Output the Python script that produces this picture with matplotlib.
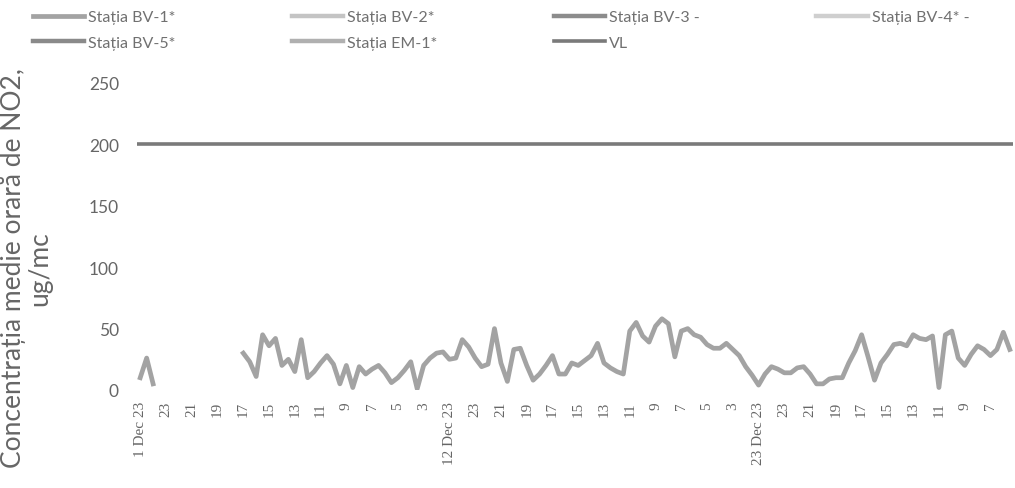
# NO2 hourly mean concentration, December 2023
import matplotlib.pyplot as plt
import numpy as np

tick_labels = ['1 Dec 23', '23', '21', '19', '17', '15', '13', '11', '9', '7', '5', '3',
               '12 Dec 23', '23', '21', '19', '17', '15', '13', '11', '9', '7', '5', '3',
               '23 Dec 23', '23', '21', '19', '17', '15', '13', '11', '9', '7']

# measured values (None = missing)
bv1 = [10, 26, 5, None, None, None, None, None, None, None, None, None, None, None, None, None,
       30, 23, 11, 45, 36, 42, 20, 25, 15, 41, 10, 15, 22, 28, 21, 5,
       20, 2, 19, 13, 17, 20, 14, 6, 10, 16, 23, 1, 20, 26, 30, 31,
       25, 26, 41, 35, 26, 19, 21, 50, 22, 7, 33, 34, 20, 8, 13, 20,
       28, 13, 13, 22, 20, 24, 28, 38, 22, 18, 15, 13, 48, 55, 44, 39,
       52, 58, 54, 27, 48, 50, 45, 43, 37, 34, 34, 38, 33, 28, 19, 12,
       4, 13, 19, 17, 14, 14, 18, 19, 13, 5, 5, 9, 10, 10, 22, 32,
       45, 27, 8, 22, 29, 37, 38, 36, 45, 42, 41, 44, 2, 45, 48, 26,
       20, 29, 36, 33, 28, 33, 47, 33]
vl_value = 200

series_names = ['Stația BV-1*', 'Stația BV-2*', 'Stația BV-3 -', 'Stația BV-4* -',
                'Stația BV-5*', 'Stația EM-1*', 'VL']
series_colors = ['#a3a3a3', '#c4c4c4', '#8c8c8c', '#cfcfcf', '#8a8a8a', '#b0b0b0', '#7a7a7a']

plt.rcParams['font.family'] = ['Lato', 'DejaVu Sans']

fig = plt.figure(figsize=(10.15, 4.89), dpi=100)
ax = fig.add_axes([137 / 1015, 1 - 391 / 489, 876 / 1015, 307 / 489])

n = len(bv1)
x = np.arange(n)
y1 = np.array([np.nan if v is None else v for v in bv1], dtype=float)

handles = {}
handles[series_names[0]], = ax.plot(x, y1, color=series_colors[0], lw=3.4)
for name, col in zip(series_names[1:6], series_colors[1:6]):
    handles[name], = ax.plot([], [], color=col, lw=3.2)
handles['VL'], = ax.plot([-0.5, n - 0.5], [vl_value, vl_value], color=series_colors[6], lw=2.6)

ax.set_xlim(-0.5, n - 0.5)
ax.set_ylim(0, 250)
ax.set_yticks([0, 50, 100, 150, 200, 250])
ax.tick_params(axis='y', length=0, pad=13, labelsize=12.5, labelcolor='#666666')
ax.set_xticks(np.arange(len(tick_labels)) * 4)
ax.set_xticklabels(tick_labels, rotation=90, fontsize=11, color='#666666',
                   family='Liberation Serif')
ax.tick_params(axis='x', length=0, pad=8)
for s in ax.spines.values():
    s.set_visible(False)

ax.set_ylabel('Concentrația medie orară de NO2,\nug/mc', fontsize=19, color='#666666',
              linespacing=1.05)
ax.yaxis.set_label_coords((52 - 137) / 876, 0.40)

order = ['Stația BV-1*', 'Stația BV-5*', 'Stația BV-2*', 'Stația EM-1*',
         'Stația BV-3 -', 'VL', 'Stația BV-4* -']
fig.legend([handles[k] for k in order], order, ncol=4, loc='upper left',
           bbox_to_anchor=(33 / 1015, 1 - 11 / 489), frameon=False, fontsize=11.5,
           handlelength=3.2, handletextpad=0.25, columnspacing=7.3,
           labelspacing=0.7, borderpad=0, borderaxespad=0, labelcolor='#707070')

fig.savefig('out.png', dpi=100)
